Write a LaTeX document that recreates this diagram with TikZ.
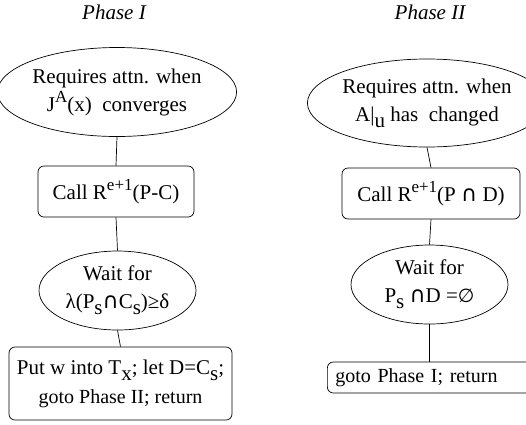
\documentclass[tikz,border=0pt]{standalone}
\usepackage{fontspec}
\setmainfont{Liberation Serif}
\newfontfamily\symfont{DejaVu Sans}
\usetikzlibrary{shapes.geometric}
% raised and lowered pieces of text, as in the original typesetting
\newcommand\hi[1]{\raisebox{0.42em}{\fontsize{17}{17}\selectfont #1}}
\newcommand\lo[1]{\raisebox{-0.3em}{#1}}
\newcommand\capsym{{\symfont\fontsize{22}{22}\selectfont ∩}}
\newcommand\emptysym{{\symfont\fontsize{19}{19}\selectfont ∅}}
\tikzset{
  every node/.style={font=\fontsize{21}{28}\selectfont},
  oval/.style={draw, ellipse, inner sep=0pt, align=center},
  stepbox/.style={draw, rectangle, rounded corners=6pt, inner sep=0pt, align=center},
  title/.style={font=\fontsize{21}{24}\selectfont\itshape},
  link/.style={draw=black, line width=0.7pt}
}
\begin{document}
\begin{tikzpicture}[x=1pt, y=-1pt, line width=0.7pt]
\useasboundingbox (0,0) rectangle (526,424);
\clip (0,0) rectangle (526,424);

% column titles
\node[title] (t1) at (114,12) {Phase I};
\node[title] (t2) at (430,12) {Phase II};

% Phase I
\node[oval, minimum width=204pt, minimum height=89pt] (a1) at (117,92)
  {Requires attn. when\\J\hi{A}(x)~ converges};
\node[stepbox, minimum width=156pt, minimum height=51pt] (a2) at (116,191.5)
  {Call R\hi{e+1}(P-C)};
\node[oval, minimum width=157pt, minimum height=79pt] (a3) at (117.5,290.5)
  {Wait for\\λ(P\lo{s}\capsym C\lo{s})≥δ};
\node[stepbox, minimum width=223pt, minimum height=73pt] (a4) at (120.5,383.5)
  {Put w into T\lo{x}; let D=C\lo{s};\\[1pt]{\fontsize{20}{20}\selectfont goto Phase II; return}};

% Phase II
\node[oval, minimum width=198pt, minimum height=88pt] (b1) at (427,103)
  {Requires attn. when\\A|\lo{u} has~ changed};
\node[stepbox, minimum width=178pt, minimum height=51pt] (b2) at (431,193.5)
  {Call R\hi{e+1}(P \capsym\ D)};
\node[oval, minimum width=157pt, minimum height=79pt] (b3) at (429.5,284.5)
  {Wait for\\P\lo{s} \capsym D =\emptysym};
\node[stepbox, anchor=west, text width=224pt, inner xsep=8pt, minimum height=31pt, align=left,
      font=\fontsize{20}{24}\selectfont] (b4) at (327,377.5)
  {goto Phase I; return};

% connectors
\draw[link] (a1.south) -- (a2.north);
\draw[link] (a2.south) -- (a3.north);
\draw[link] (a3.south) -- (a4.north);
\draw[link] (b1.south) -- (b2.north);
\draw[link] (b2.south) -- (b3.north);
\draw[link] (b3.south) -- (b3.south |- b4.north);
\end{tikzpicture}
\end{document}
